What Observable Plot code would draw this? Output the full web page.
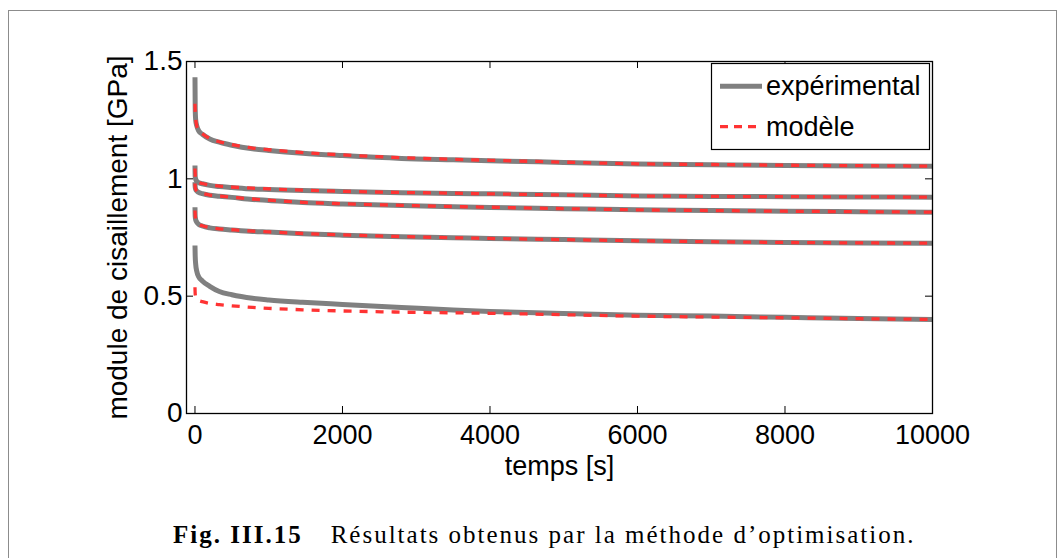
<!DOCTYPE html>
<html><head><meta charset="utf-8">
<script src="https://cdn.jsdelivr.net/npm/d3@7"></script>
<script src="https://cdn.jsdelivr.net/npm/@observablehq/plot@0.6"></script>
<style>
html,body{margin:0;padding:0;background:#fff;width:1062px;height:558px;overflow:hidden;}
#frame{position:absolute;left:8px;top:10px;width:1049px;height:600px;border:1px solid #8c8c8c;box-sizing:border-box;}
#chart{position:absolute;left:0;top:0;}
#caption{position:absolute;left:173px;top:522px;font-family:"Liberation Serif","Times New Roman",serif;font-size:25px;line-height:25px;letter-spacing:2px;white-space:nowrap;color:#000;}
</style></head><body>
<div id="frame"></div>
<div id="chart"></div>
<div id="caption"><b>Fig. III.15</b><span style="display:inline-block;width:28px"></span>Résultats obtenus par la méthode d’optimisation.</div>
<script>
// time samples [s]
const times = [0, 3, 10, 25, 50, 100, 200, 330, 500, 780, 1000, 1460, 2000, 2800, 3500, 4000, 5000, 6000, 7000, 8000, 9000, 10000];
// experimental curves [GPa]
const exp1 = [1.433, 1.30, 1.25, 1.225, 1.205, 1.19, 1.17, 1.156, 1.143, 1.128, 1.121, 1.109, 1.099, 1.087, 1.081, 1.077, 1.07, 1.063, 1.06, 1.057, 1.055, 1.054];
const exp2 = [1.057, 1.01, 0.998, 0.99, 0.984, 0.979, 0.972, 0.967, 0.963, 0.957, 0.955, 0.950, 0.946, 0.941, 0.938, 0.936, 0.932, 0.927, 0.925, 0.924, 0.923, 0.922];
const exp3 = [0.986, 0.965, 0.955, 0.948, 0.942, 0.937, 0.93, 0.926, 0.921, 0.912, 0.908, 0.899, 0.893, 0.886, 0.881, 0.878, 0.873, 0.868, 0.865, 0.862, 0.86, 0.858];
const exp4 = [0.879, 0.84, 0.825, 0.815, 0.806, 0.799, 0.791, 0.786, 0.782, 0.776, 0.773, 0.766, 0.76, 0.753, 0.749, 0.746, 0.741, 0.736, 0.732, 0.729, 0.727, 0.726];
const exp5 = [0.716, 0.67, 0.635, 0.605, 0.583, 0.565, 0.542, 0.52, 0.506, 0.491, 0.484, 0.474, 0.465, 0.452, 0.441, 0.435, 0.426, 0.419, 0.415, 0.41, 0.405, 0.401];
// model curves [GPa]
const mod1 = [1.32, 1.29, 1.255, 1.225, 1.207, 1.192, 1.172, 1.158, 1.146, 1.131, 1.124, 1.112, 1.102, 1.090, 1.083, 1.079, 1.071, 1.064, 1.061, 1.058, 1.056, 1.054];
const mod2 = [1.044, 1.02, 1.0, 0.99, 0.985, 0.98, 0.974, 0.969, 0.965, 0.96, 0.957, 0.952, 0.947, 0.942, 0.939, 0.936, 0.931, 0.927, 0.925, 0.924, 0.923, 0.922];
const mod3 = [0.98, 0.965, 0.955, 0.948, 0.943, 0.938, 0.931, 0.927, 0.922, 0.914, 0.909, 0.900, 0.894, 0.887, 0.882, 0.879, 0.873, 0.868, 0.865, 0.862, 0.86, 0.858];
const mod4 = [0.865, 0.845, 0.828, 0.816, 0.807, 0.8, 0.792, 0.787, 0.783, 0.777, 0.774, 0.767, 0.761, 0.754, 0.749, 0.746, 0.741, 0.736, 0.732, 0.729, 0.727, 0.726];
const mod5 = [0.538, 0.51, 0.497, 0.488, 0.482, 0.477, 0.469, 0.464, 0.459, 0.452, 0.448, 0.442, 0.437, 0.432, 0.429, 0.427, 0.421, 0.415, 0.411, 0.408, 0.404, 0.401];
// ticks & labels
const xTicks = [0, 2000, 4000, 6000, 8000, 10000];
const yTicks = [0, 0.5, 1, 1.5];
const seriesNames = ["expérimental", "modèle"];
const xLabel = "temps [s]";
const yLabel = "module de cisaillement [GPa]";

function rows(list) {
  const out = [];
  list.forEach((arr, k) => arr.forEach((v, i) => out.push({curve: k, t: times[i], v})));
  return out;
}
const expRows = rows([exp1, exp2, exp3, exp4, exp5]);
const modRows = rows([mod1, mod2, mod3, mod4, mod5]);

const W = 1062, H = 480;
const mL = 186, mR = 130, mT = 61, mB = H - 413;
const pw = W - mL - mR, ph = H - mT - mB;
const GRAY = "#808080", RED = "#ff3333";

const plot = Plot.plot({
  width: W, height: H,
  marginLeft: mL, marginRight: mR, marginTop: mT, marginBottom: mB,
  style: {fontFamily: '"Liberation Sans", Arial, sans-serif', fontSize: "27px", background: "transparent", overflow: "visible", color: "#000"},
  x: {domain: [-115, 10000]},
  y: {domain: [0, 1.5]},
  marks: [
    Plot.line(expRows, {x: "t", y: "v", z: "curve", stroke: GRAY, strokeWidth: 5, curve: "monotone-x", strokeLinecap: "butt"}),
    Plot.line(modRows, {x: "t", y: "v", z: "curve", stroke: RED, strokeWidth: 3.3, strokeDasharray: "8,8", curve: "monotone-x", strokeLinecap: "butt"}),
    Plot.frame({stroke: "#000", strokeWidth: 1.3}),
    Plot.tickX(xTicks, {x: d => d, insetTop: ph - 7, stroke: "#000"}),
    Plot.tickX(xTicks, {x: d => d, insetBottom: ph - 7, stroke: "#000"}),
    Plot.tickY(yTicks, {y: d => d, insetRight: pw - 7, stroke: "#000"}),
    Plot.tickY(yTicks, {y: d => d, insetLeft: pw - 7, stroke: "#000"}),
    Plot.axisX(xTicks, {anchor: "bottom", tickSize: 0, tickPadding: 11, tickFormat: d => String(d), label: xLabel, labelAnchor: "center", labelArrow: "none", labelOffset: 61}),
    Plot.axisY(yTicks, {anchor: "left", tickSize: 0, tickPadding: 4, tickFormat: d => String(d), label: yLabel, labelAnchor: "center", labelArrow: "none", labelOffset: 79, fontSize: 28})
  ]
});
document.getElementById("chart").appendChild(plot);

// legend inside the plot (upper right)
const svg = d3.select(plot);
const lg = svg.append("g").attr("font-size", "27px").attr("font-family", '"Liberation Sans", Arial, sans-serif').attr("text-anchor", "start");
lg.append("rect").attr("x", 711.5).attr("y", 63.5).attr("width", 218).attr("height", 86)
  .attr("fill", "#fff").attr("stroke", "#000").attr("stroke-width", 1.2);
const entries = [
  {name: seriesNames[0], stroke: GRAY, w: 5, dash: null, ly: 86.3, ty: 95},
  {name: seriesNames[1], stroke: RED, w: 3.3, dash: "8,6", ly: 126.7, ty: 136}
];
entries.forEach(e => {
  lg.append("line").attr("x1", 720).attr("x2", 762).attr("y1", e.ly).attr("y2", e.ly)
    .attr("stroke", e.stroke).attr("stroke-width", e.w).attr("stroke-dasharray", e.dash);
  lg.append("text").attr("x", 766).attr("y", e.ty).attr("fill", "#000").attr("text-anchor", "start").text(e.name);
});
</script>
</body></html>
